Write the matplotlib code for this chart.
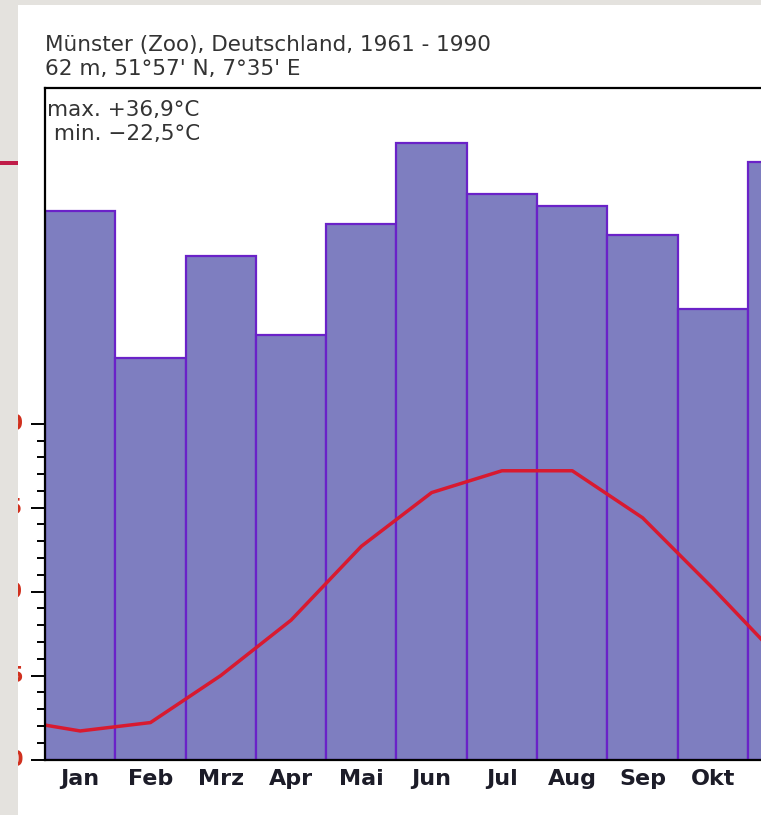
import matplotlib
matplotlib.use("Agg")
import matplotlib.pyplot as plt
import numpy as np
from matplotlib.patches import Rectangle
from matplotlib.ticker import FixedLocator

# Klimadaten Münster (Zoo) 1961-1990
months = ["Jan", "Feb", "Mrz", "Apr", "Mai", "Jun", "Jul", "Aug", "Sep", "Okt", "Nov", "Dez"]
precip_mm = [65.4, 47.8, 60.0, 50.6, 63.8, 73.5, 67.4, 65.9, 62.5, 53.7, 71.2, 78.0]
temp_c = [1.7, 2.2, 5.0, 8.3, 12.7, 15.9, 17.2, 17.2, 14.4, 10.2, 5.8, 2.4]
temp_ticks = [0, 5, 10, 15, 20]
title1 = "Münster (Zoo), Deutschland, 1961 - 1990"
title2 = "62 m, 51°57' N, 7°35' E"
extremes = ["max. +36,9°C", " min. \u221222,5°C"]

W, H = 761, 815
fig = plt.figure(figsize=(W / 100, H / 100), dpi=100)
fig.patch.set_facecolor("white")

def fx(px): return px / W
def fy(py): return 1 - py / H

x0, ytop, ybot, mw = 45, 88, 759.5, 70.3
ax = fig.add_axes([fx(x0), fy(ybot), 12 * mw / W, (ybot - ytop) / H])
ax2 = ax.twinx()

centers = np.arange(12) + 0.5
ax2.bar(centers, precip_mm, width=1.0, color="#7e7ec0", edgecolor="#6a22c8", linewidth=1.6)
ax2.set_ylim(0, 80)
ax2.set_yticks([])
for s in ax2.spines.values():
    s.set_visible(False)

# Temperatur über den Balken, mit Dez/Jan an den Rändern fortgesetzt
ax.set_zorder(ax2.get_zorder() + 1)
ax.patch.set_visible(False)
tx = np.concatenate([[-0.5], centers, [12.5]])
ty = np.concatenate([[temp_c[-1]], temp_c, [temp_c[0]]])
ax.plot(tx, ty, color="#d81a30", lw=2.5, solid_joinstyle="round")
ax.set_xlim(0, 12)
ax.set_ylim(0, 40)
ax.set_yticks(temp_ticks)
ax.set_yticklabels([])
ax.yaxis.set_minor_locator(FixedLocator([v for v in range(0, 21) if v % 5]))
ax.tick_params(axis="y", which="major", length=10, width=1.4, color="black")
ax.tick_params(axis="y", which="minor", length=5.8, width=1.4, color="black")
ax.set_xticks(centers)
ax.set_xticklabels(months, fontsize=16, fontweight="bold", color="#1c1c28")
ax.tick_params(axis="x", length=0, pad=7)
for side in ["left", "top", "bottom"]:
    ax.spines[side].set_linewidth(1.6)
    ax.spines[side].set_color("black")
ax.spines["right"].set_visible(False)

# rote Temperaturbeschriftung, größtenteils vom grauen Rand verdeckt
for t in temp_ticks:
    ax.annotate(str(t), xy=(0, t), xycoords=("axes fraction", "data"),
                xytext=(-22, 0), textcoords="offset pixels",
                ha="right", va="center", color="#d0301e", fontsize=15, fontweight="bold")

fs = 15.5
fig.text(fx(45), fy(45), title1, fontsize=fs, color="#333333", va="center")
fig.text(fx(45), fy(69), title2, fontsize=fs, color="#333333", va="center")
fig.text(fx(47), fy(110), extremes[0], fontsize=fs, color="#333333", va="center")
fig.text(fx(47), fy(134), extremes[1], fontsize=fs, color="#333333", va="center")

# grauer Folienrand links/oben und roter Akzentstrich
fig.add_artist(Rectangle((0, 0), fx(18), 1, transform=fig.transFigure,
                         facecolor="#e4e2de", edgecolor="none", zorder=10))
fig.add_artist(Rectangle((0, fy(5)), 1, 5 / H, transform=fig.transFigure,
                         facecolor="#e4e2de", edgecolor="none", zorder=10))
fig.add_artist(Rectangle((0, fy(165)), fx(18), 4 / H, transform=fig.transFigure,
                         facecolor="#c01c48", edgecolor="none", zorder=11))

fig.savefig("out.png", dpi=100)
